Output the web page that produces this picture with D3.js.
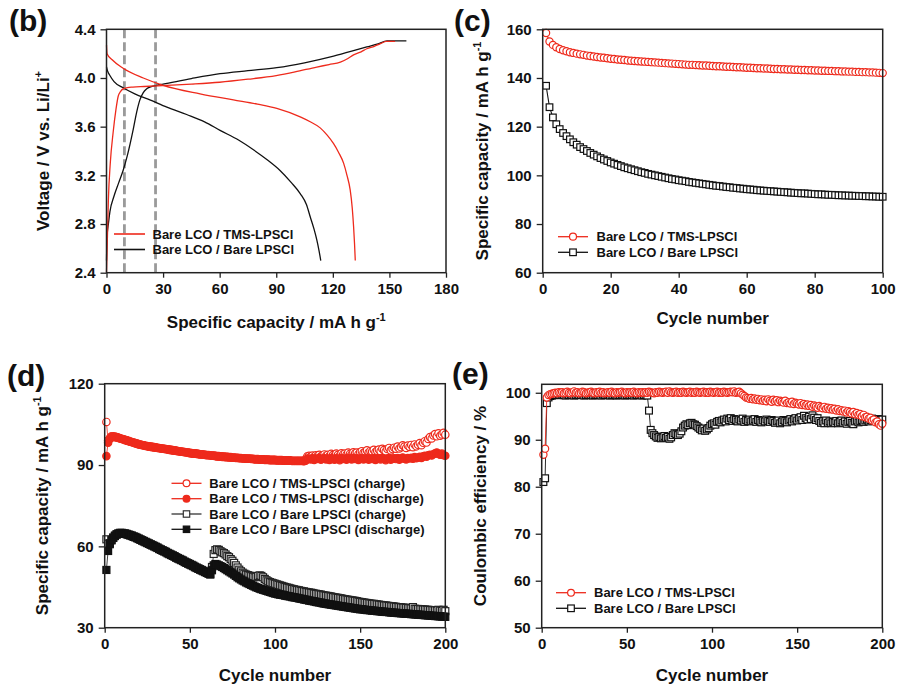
<!DOCTYPE html>
<html><head><meta charset="utf-8">
<script src="https://cdn.jsdelivr.net/npm/d3@7"></script>
<style>
body{margin:0;background:#fff;}
svg text{font-family:"Liberation Sans",Arial,sans-serif;font-weight:bold;fill:#111;}
</style></head><body>
<svg id="chart" width="900" height="692"></svg>
<script>
// ---------- Panel (b): voltage profiles ----------
const bChgTmsCap = [0, 0.5, 1, 2, 3.5, 5, 6.2, 7.5, 8.8, 11, 14, 20, 32, 45, 60, 75, 90, 100, 111.5, 118, 124, 128, 131, 135, 138, 142, 145, 148.3, 153];
const bChgTmsV   = [2.4, 2.7, 3.0, 3.3, 3.55, 3.74, 3.85, 3.89, 3.91, 3.92, 3.925, 3.93, 3.94, 3.95, 3.965, 3.99, 4.02, 4.05, 4.09, 4.11, 4.13, 4.16, 4.19, 4.215, 4.24, 4.26, 4.28, 4.3, 4.3];
const bChgBareCap = [0, 0.3, 1, 1.8, 4, 6.5, 8.8, 11, 14.2, 16, 17.7, 19.5, 21.2, 23, 26.5, 30, 45, 60.2, 75, 90.3, 105, 120.4, 130, 138, 144, 148.7, 159];
const bChgBareV   = [2.5, 2.7, 2.8, 2.9, 3.03, 3.14, 3.24, 3.36, 3.58, 3.72, 3.82, 3.88, 3.91, 3.925, 3.94, 3.95, 3.995, 4.035, 4.06, 4.085, 4.125, 4.18, 4.22, 4.255, 4.28, 4.305, 4.305];
const bDisTmsCap = [0, 0.3, 3, 8.8, 19.5, 30, 49.6, 67.3, 80, 90.3, 102.7, 108, 113.3, 117, 120.4, 123, 125.7, 127.5, 129.2, 130.3, 131, 131.5, 131.9];
const bDisTmsV   = [4.27, 4.2, 4.15, 4.08, 4.0, 3.94, 3.87, 3.82, 3.785, 3.75, 3.68, 3.64, 3.59, 3.53, 3.46, 3.39, 3.30, 3.2, 3.08, 2.93, 2.78, 2.64, 2.5];
const bDisBareCap = [0, 0.5, 1.8, 4, 8.8, 15, 23, 32, 42.5, 52, 60.2, 70, 77.9, 85, 92, 98, 102.7, 106, 108, 110, 111.5, 112.7, 113.6];
const bDisBareV   = [4.09, 4.06, 4.02, 3.97, 3.92, 3.87, 3.82, 3.76, 3.70, 3.64, 3.57, 3.49, 3.41, 3.33, 3.24, 3.14, 3.05, 2.96, 2.86, 2.76, 2.67, 2.58, 2.5];
const bDashX = [9.5, 26];
const bXTicks = [0, 30, 60, 90, 120, 150, 180];
const bYTicks = [2.4, 2.8, 3.2, 3.6, 4.0, 4.4];

// ---------- Panel (c): discharge capacity, 100 cycles ----------
const cTms = [158.5,155.0,153.6,152.6,151.9,151.4,151.0,150.6,150.3,150.0,
149.7,149.5,149.2,149.0,148.8,148.6,148.4,148.3,148.1,147.9,
147.8,147.6,147.5,147.4,147.2,147.1,147.0,146.9,146.8,146.7,
146.6,146.5,146.4,146.3,146.2,146.1,146.0,145.9,145.8,145.7,
145.6,145.5,145.4,145.4,145.3,145.2,145.1,145.1,145.0,144.9,
144.8,144.8,144.7,144.6,144.6,144.5,144.4,144.4,144.3,144.2,
144.2,144.1,144.0,144.0,143.9,143.9,143.8,143.7,143.7,143.6,
143.6,143.5,143.5,143.4,143.4,143.3,143.3,143.2,143.2,143.1,
143.1,143.0,143.0,142.9,142.9,142.8,142.8,142.7,142.7,142.6,
142.6,142.5,142.5,142.4,142.4,142.3,142.3,142.2,142.1,142.0];
const cBare = [136.8,128.0,123.8,121.0,119.0,117.4,116.1,114.8,113.6,112.6,
111.6,110.8,110.0,109.2,108.5,107.8,107.1,106.5,105.9,105.3,
104.8,104.3,103.8,103.3,102.9,102.5,102.1,101.7,101.3,101.0,
100.6,100.3,100.0,99.7,99.4,99.1,98.8,98.5,98.3,98.0,
97.8,97.6,97.3,97.1,96.9,96.7,96.5,96.3,96.1,95.9,
95.7,95.6,95.4,95.2,95.1,94.9,94.8,94.6,94.5,94.3,
94.2,94.1,93.9,93.8,93.7,93.6,93.5,93.4,93.3,93.2,
93.1,93.0,92.9,92.8,92.7,92.6,92.6,92.5,92.4,92.3,
92.2,92.2,92.1,92.0,92.0,91.9,91.8,91.8,91.7,91.7,
91.6,91.6,91.5,91.5,91.4,91.4,91.3,91.3,91.2,91.2];
const cXTicks = [0, 20, 40, 60, 80, 100];
const cYTicks = [60, 80, 100, 120, 140, 160];

// ---------- Panel (d): charge / discharge capacity, 200 cycles ----------
const dTmsChg = [105.9,99.0,100.0,100.6,100.6,100.5,100.3,100.1,99.9,99.7,
99.5,99.3,99.1,98.9,98.7,98.5,98.3,98.1,97.9,97.7,
97.6,97.4,97.3,97.1,97.0,96.9,96.8,96.7,96.6,96.5,
96.4,96.3,96.2,96.1,96.0,95.9,95.8,95.7,95.6,95.5,
95.4,95.3,95.2,95.1,95.0,94.9,94.8,94.7,94.6,94.5,
94.4,94.3,94.3,94.2,94.1,94.0,94.0,93.9,93.8,93.7,
93.7,93.6,93.5,93.5,93.4,93.3,93.3,93.2,93.1,93.1,
93.0,93.0,92.9,92.9,92.8,92.8,92.7,92.7,92.6,92.6,
92.5,92.5,92.4,92.4,92.4,92.3,92.3,92.2,92.2,92.2,
92.1,92.1,92.1,92.0,92.0,92.0,91.9,91.9,91.9,91.9,
91.8,91.8,91.8,91.8,91.7,91.7,91.7,91.7,91.7,91.6,
91.6,91.6,91.6,91.6,91.6,91.6,91.5,92.2,93.2,93.4,
93.1,93.5,93.0,93.6,93.3,93.8,93.2,93.6,93.9,93.4,
93.8,93.3,94.1,93.7,93.5,94.2,93.8,93.4,94.3,93.9,
94.2,93.8,94.6,94.1,94.0,94.7,94.2,94.6,94.0,94.8,
95.1,94.5,94.9,95.4,94.6,95.2,95.0,95.6,94.8,95.3,
95.7,95.1,96.0,95.5,95.0,95.9,96.3,95.4,95.9,96.4,
96.0,96.8,96.1,96.6,97.3,96.8,96.3,97.2,96.7,97.4,
96.6,97.6,96.9,97.5,98.1,97.3,98.2,98.8,98.3,99.6,
100.3,99.8,100.9,101.4,100.6,101.7,100.8,101.3,101.9,101.2];
const dTmsDis = [93.3,98.2,99.6,100.3,100.4,100.3,100.2,100.0,99.8,99.6,
99.4,99.2,99.0,98.8,98.6,98.4,98.2,98.0,97.8,97.6,
97.5,97.3,97.2,97.0,96.9,96.8,96.7,96.6,96.5,96.4,
96.3,96.2,96.1,96.0,95.9,95.8,95.7,95.6,95.5,95.4,
95.3,95.2,95.1,95.0,94.9,94.8,94.7,94.6,94.5,94.4,
94.3,94.2,94.2,94.1,94.0,93.9,93.9,93.8,93.7,93.6,
93.6,93.5,93.4,93.4,93.3,93.2,93.2,93.1,93.0,93.0,
92.9,92.9,92.8,92.8,92.7,92.7,92.6,92.6,92.5,92.5,
92.4,92.4,92.3,92.3,92.3,92.2,92.2,92.1,92.1,92.1,
92.0,92.0,92.0,91.9,91.9,91.9,91.8,91.8,91.8,91.8,
91.7,91.7,91.7,91.7,91.6,91.6,91.6,91.6,91.6,91.5,
91.5,91.5,91.5,91.5,91.5,91.5,91.4,91.6,92.4,92.3,
92.1,92.5,91.9,92.4,92.2,92.6,92.0,92.3,92.5,92.1,
92.4,91.9,92.6,92.2,92.0,92.5,92.3,91.8,92.6,92.2,
92.4,92.0,92.7,92.3,92.1,92.6,92.2,92.5,91.9,92.4,
92.6,92.1,92.3,92.7,92.0,92.4,92.2,92.6,91.9,92.3,
92.5,92.1,92.7,92.3,91.8,92.4,92.6,92.0,92.3,92.5,
92.2,92.6,92.0,92.4,92.8,92.3,92.1,92.6,92.4,92.7,
92.3,92.9,92.5,92.8,93.0,92.6,93.2,93.4,93.1,93.6,
93.8,93.5,94.0,94.3,94.6,94.1,93.8,94.2,93.6,93.4];
const dBareChg = [62.6,61.0,61.2,62.4,63.3,64.0,64.5,64.8,65.0,65.0,
64.9,64.8,64.6,64.4,64.2,64.0,63.7,63.5,63.2,62.9,
62.6,62.3,62.0,61.7,61.4,61.1,60.8,60.5,60.2,59.9,
59.6,59.2,58.9,58.6,58.3,58.0,57.6,57.3,57.0,56.7,
56.4,56.0,55.7,55.4,55.1,54.8,54.4,54.1,53.8,53.5,
53.2,52.9,52.5,52.2,51.9,51.6,51.3,51.0,50.7,50.4,
50.1,49.8,52.4,57.2,58.6,58.9,58.7,58.2,57.8,57.5,
57.0,56.4,56.0,55.3,54.7,53.9,53.0,52.2,51.4,50.8,
50.3,49.9,49.6,49.4,49.2,49.0,48.8,48.6,48.8,49.1,
49.3,49.1,48.6,48.0,47.5,47.1,46.8,46.6,46.4,46.2,
46.0,45.8,45.6,45.4,45.2,45.0,44.8,44.7,44.5,44.3,
44.2,44.0,43.9,43.8,43.6,43.5,43.4,43.2,43.1,43.0,
42.9,42.8,42.6,42.5,42.4,42.3,42.2,42.0,41.9,41.8,
41.7,41.6,41.5,41.3,41.2,41.1,41.0,40.9,40.8,40.6,
40.5,40.4,40.3,40.2,40.1,40.0,39.9,39.8,39.6,39.5,
39.4,39.3,39.2,39.1,39.0,38.9,38.8,38.8,38.7,38.6,
38.5,38.4,38.3,38.2,38.2,38.1,38.0,37.9,37.9,37.8,
37.7,37.6,37.6,37.5,37.4,37.4,37.3,37.2,37.2,37.1,
37.6,37.0,36.9,36.9,36.8,36.8,36.7,36.7,36.6,36.6,
36.5,36.5,36.4,36.4,36.3,36.6,36.3,36.2,36.6,36.1];
const dBareDis = [51.3,58.3,60.8,62.2,63.1,63.8,64.3,64.6,64.8,64.8,
64.7,64.6,64.4,64.2,64.0,63.8,63.5,63.3,63.0,62.7,
62.4,62.1,61.8,61.5,61.2,60.9,60.6,60.3,60.0,59.7,
59.4,59.0,58.7,58.4,58.1,57.8,57.4,57.1,56.8,56.5,
56.2,55.8,55.5,55.2,54.9,54.6,54.2,53.9,53.6,53.3,
53.0,52.7,52.3,52.0,51.7,51.4,51.1,50.8,50.5,50.2,
49.9,49.6,51.2,53.0,53.5,53.3,53.0,52.7,52.4,52.0,
51.6,51.2,50.8,50.4,50.0,49.6,49.1,48.6,48.2,47.8,
47.4,47.1,46.7,46.4,46.1,45.8,45.5,45.2,44.9,44.7,
44.4,44.2,44.0,43.8,43.6,43.4,43.2,43.0,42.8,42.6,
42.5,42.3,42.2,42.1,42.0,41.8,41.7,41.6,41.5,41.3,
41.2,41.1,41.0,40.8,40.7,40.6,40.4,40.3,40.2,40.0,
39.9,39.8,39.7,39.5,39.4,39.3,39.2,39.0,38.9,38.8,
38.7,38.6,38.5,38.4,38.3,38.2,38.1,38.0,37.9,37.8,
37.7,37.6,37.5,37.4,37.3,37.2,37.1,37.0,36.9,36.8,
36.8,36.7,36.6,36.5,36.5,36.4,36.3,36.3,36.2,36.1,
36.1,36.0,35.9,35.9,35.8,35.8,35.7,35.6,35.6,35.5,
35.5,35.4,35.4,35.3,35.3,35.2,35.2,35.1,35.1,35.0,
35.0,34.9,34.9,34.8,34.8,34.7,34.7,34.6,34.6,34.5,
34.5,34.4,34.4,34.3,34.3,34.2,34.2,34.1,34.1,34.0];
const dXTicks = [0, 50, 100, 150, 200];
const dYTicks = [30, 60, 90, 120];

// ---------- Panel (e): coulombic efficiency, 200 cycles ----------
const eTms = [86.8,88.1,99.0,99.5,99.7,99.8,99.9,100.0,99.9,100.1,
100.0,100.1,99.9,100.0,100.2,100.0,99.9,100.1,100.3,100.0,
100.1,99.9,100.0,100.2,100.1,99.9,100.0,100.1,100.2,100.0,
99.9,100.1,100.0,100.2,100.0,100.1,99.9,100.0,100.1,100.0,
100.2,100.0,99.9,100.1,100.0,100.1,100.2,100.0,99.9,100.1,
100.0,100.1,100.0,100.2,100.0,99.9,100.1,100.0,100.1,100.0,
100.1,100.0,100.2,100.1,100.0,99.9,100.1,100.0,100.2,100.1,
100.0,100.1,100.2,100.0,100.3,100.1,100.0,100.1,100.2,100.0,
100.1,100.0,100.2,100.1,100.0,100.1,100.2,100.0,100.1,100.0,
100.2,100.1,100.0,100.1,100.2,100.0,100.1,100.0,100.2,100.1,
100.0,100.1,100.2,100.0,100.1,100.0,100.2,100.1,100.0,100.1,
100.2,100.1,100.3,100.0,100.1,100.2,99.9,99.6,99.3,99.0,
98.9,98.7,98.9,98.6,98.8,98.5,98.7,98.4,98.6,98.3,
98.5,98.2,98.6,98.3,98.1,98.5,98.2,98.4,98.0,98.3,
98.1,97.9,98.3,97.8,98.0,97.7,98.1,97.6,97.9,97.7,
97.5,97.8,97.4,97.6,97.3,97.5,97.2,97.4,97.0,97.3,
97.1,96.8,97.2,96.9,96.7,97.0,96.6,96.8,96.5,96.7,
96.4,96.6,96.2,96.5,96.1,96.3,96.0,96.2,95.8,96.1,
95.9,95.6,95.9,95.4,95.7,95.3,95.5,95.0,95.3,94.8,
94.9,94.5,94.7,94.1,94.3,93.7,93.9,93.3,93.0,93.4];
const eBare = [81.0,81.8,97.8,99.0,99.3,99.4,99.5,99.6,99.5,99.6,
99.5,99.6,99.5,99.4,99.6,99.5,99.6,99.5,99.4,99.5,
99.6,99.5,99.5,99.6,99.4,99.5,99.6,99.5,99.5,99.4,
99.5,99.6,99.5,99.5,99.4,99.6,99.5,99.5,99.6,99.4,
99.5,99.5,99.6,99.4,99.5,99.5,99.6,99.5,99.4,99.5,
99.6,99.5,99.5,99.4,99.6,99.5,99.5,99.6,99.4,99.5,
99.5,99.4,96.2,92.1,91.4,91.0,90.7,90.4,90.6,90.3,
90.5,90.8,90.4,90.6,90.2,90.5,91.0,91.4,91.2,91.0,
91.3,91.8,92.6,93.0,93.3,93.1,93.5,93.6,93.3,93.2,
92.9,92.6,92.3,92.0,92.4,91.9,92.2,92.5,93.0,93.3,
93.5,93.2,93.8,94.0,93.7,94.1,94.3,93.9,94.5,94.2,
94.6,94.0,94.4,94.2,93.9,94.3,94.1,94.5,93.8,94.2,
94.0,94.3,93.9,94.1,94.4,93.8,94.2,94.0,93.7,94.1,
93.9,94.3,94.0,93.8,94.2,94.0,93.6,93.9,94.1,93.5,
93.8,94.2,94.0,93.7,94.1,94.4,93.9,94.3,94.6,94.1,
94.5,94.8,94.2,95.1,94.6,94.3,94.9,94.4,95.2,94.7,
94.2,94.6,94.0,93.6,93.9,93.5,94.1,93.6,93.9,93.5,
93.8,93.6,94.0,93.5,93.8,94.1,93.6,93.9,93.4,93.8,
94.0,93.6,93.3,93.9,94.1,93.7,94.0,94.2,93.8,94.1,
94.3,93.9,94.2,94.5,94.0,94.3,94.1,94.4,94.2,94.3];
const eXTicks = [0, 50, 100, 150, 200];
const eYTicks = [50, 60, 70, 80, 90, 100];

const labelTms = "Bare LCO / TMS-LPSCl";
const labelBare = "Bare LCO / Bare LPSCl";

// ---------- drawing ----------
const RED = "#ee2a1c", BLACK = "#111111", FRAME = "#222";
const svg = d3.select("#chart");

function makePanel(o) {
  const x = d3.scaleLinear().domain(o.xDomain).range([o.left, o.right]);
  const y = d3.scaleLinear().domain(o.yDomain).range([o.bottom, o.top]);
  const g = svg.append("g");
  const clipId = "clip" + o.id;
  svg.append("clipPath").attr("id", clipId).append("rect")
    .attr("x", o.left - 6).attr("y", o.top - 6)
    .attr("width", o.right - o.left + 12).attr("height", o.bottom - o.top + 12);
  const plot = g.append("g").attr("clip-path", `url(#${clipId})`);
  const xa = g.append("g").attr("transform", `translate(0,${o.bottom})`)
    .call(d3.axisBottom(x).tickValues(o.xTicks).tickSize(5).tickPadding(6).tickFormat(o.xFmt || d3.format("d")));
  const ya = g.append("g").attr("transform", `translate(${o.left},0)`)
    .call(d3.axisLeft(y).tickValues(o.yTicks).tickSize(6).tickPadding(5).tickFormat(o.yFmt || d3.format("d")));
  [xa, ya].forEach(a => {
    a.select(".domain").remove();
    a.selectAll(".tick line").attr("stroke", FRAME).attr("stroke-width", 1.3);
    a.selectAll(".tick text").attr("font-size", 15).attr("fill", "#111")
      .attr("font-family", "'Liberation Sans', Arial, sans-serif").attr("font-weight", "bold");
  });
  return {x, y, g, plot};
}

function frame(p, o) {
  p.g.append("rect").attr("x", o.left).attr("y", o.top)
    .attr("width", o.right - o.left).attr("height", o.bottom - o.top)
    .attr("fill", "none").attr("stroke", FRAME).attr("stroke-width", 1.5);
}

function titles(o, xTitle, yTitleParts, yCx) {
  svg.append("text").attr("x", (o.left + o.right) / 2).attr("y", o.xTitleY)
    .attr("text-anchor", "middle").attr("font-size", 17).text(xTitle);
  const t = svg.append("text").attr("transform", `translate(${yCx},${(o.top + o.bottom) / 2}) rotate(-90)`)
    .attr("text-anchor", "middle").attr("font-size", 17);
  yTitleParts.forEach(pt => {
    const ts = t.append("tspan").text(pt.t);
    if (pt.sup) ts.attr("font-size", 11).attr("dy", -7);
  });
  svg.append("text").attr("x", o.labX).attr("y", o.labY).attr("font-size", 30).text(o.label);
}

function marker(sel, type, cx, cy, size, color, filled) {
  if (type === "circle") {
    return sel.append("circle").attr("cx", cx).attr("cy", cy).attr("r", size)
      .attr("fill", filled ? color : "#fff").attr("stroke", color).attr("stroke-width", 1.2);
  }
  return sel.append("rect").attr("x", cx - size).attr("y", cy - size)
    .attr("width", size * 2).attr("height", size * 2)
    .attr("fill", filled ? color : "#fff").attr("stroke", color).attr("stroke-width", 1.2);
}

function series(p, vals, type, size, color, filled, lineW) {
  const pts = vals.map((v, i) => [i + 1, v]);
  p.plot.append("path").datum(pts)
    .attr("d", d3.line().x(d => p.x(d[0])).y(d => p.y(d[1])))
    .attr("fill", "none").attr("stroke", color).attr("stroke-width", lineW);
  const mg = p.plot.append("g");
  pts.forEach(d => marker(mg, type, p.x(d[0]), p.y(d[1]), size, color, filled));
}

function legendRow(x0, x1, tx, y, color, type, size, filled, text) {
  svg.append("line").attr("x1", x0).attr("x2", x1).attr("y1", y).attr("y2", y)
    .attr("stroke", color).attr("stroke-width", type ? 1.3 : 1.6);
  if (type) marker(svg, type, (x0 + x1) / 2, y, size, color, filled);
  svg.append("text").attr("x", tx).attr("y", y + 4.7).attr("font-size", 13).text(text);
}

// ----- Panel b -----
const ob = {id: "b", left: 106.5, right: 446, top: 29.3, bottom: 272.7, xDomain: [0, 180], yDomain: [2.4, 4.4],
  xTicks: bXTicks, yTicks: bYTicks, yFmt: d3.format(".1f"), xTitleY: 328, labX: 9, labY: 31, label: "(b)"};
const pb = makePanel(ob);
bDashX.forEach(v => pb.plot.append("line").attr("x1", pb.x(v)).attr("x2", pb.x(v))
  .attr("y1", ob.top).attr("y2", ob.bottom).attr("stroke", "#9a9a9a").attr("stroke-width", 2.8)
  .attr("stroke-dasharray", "9,4"));
const lineB = d3.line().curve(d3.curveMonotoneX).x(d => pb.x(d[0])).y(d => pb.y(d[1]));
[[bChgBareCap, bChgBareV, BLACK], [bDisBareCap, bDisBareV, BLACK], [bChgTmsCap, bChgTmsV, RED], [bDisTmsCap, bDisTmsV, RED]]
  .forEach(([cx, vy, col]) => pb.plot.append("path").datum(cx.map((c, i) => [c, vy[i]]))
    .attr("d", lineB).attr("fill", "none").attr("stroke", col).attr("stroke-width", 1.3));
frame(pb, ob);
svg.append("text").attr("x", ob.labX).attr("y", ob.labY).attr("font-size", 30).text(ob.label);
{
  const t = svg.append("text").attr("x", (ob.left + ob.right) / 2).attr("y", ob.xTitleY)
    .attr("text-anchor", "middle").attr("font-size", 17);
  t.append("tspan").text("Specific capacity / mA h g");
  t.append("tspan").attr("font-size", 11).attr("dy", -7).text("-1");
  const ty = svg.append("text").attr("transform", `translate(49,${(ob.top + ob.bottom) / 2}) rotate(-90)`)
    .attr("text-anchor", "middle").attr("font-size", 17);
  ty.append("tspan").text("Voltage / V vs. Li/Li");
  ty.append("tspan").attr("font-size", 11).attr("dy", -7).text("+");
}
legendRow(114, 145, 152.5, 234, RED, null, 0, false, labelTms);
legendRow(114, 145, 152.5, 249.5, BLACK, null, 0, false, labelBare);

// ----- Panel c -----
const oc = {id: "c", left: 542.7, right: 882.7, top: 29.3, bottom: 272.7, xDomain: [0, 100], yDomain: [60, 160],
  xTicks: cXTicks, yTicks: cYTicks, xTitleY: 324, labX: 454, labY: 31, label: "(c)"};
const pc = makePanel(oc);
series(pc, cBare, "rect", 3.3, BLACK, false, 1.1);
series(pc, cTms, "circle", 3.6, RED, false, 1.1);
frame(pc, oc);
titles(oc, "Cycle number", [{t: "Specific capacity / mA h g"}, {t: "-1", sup: true}], 488);
legendRow(558, 588, 596.5, 236.7, RED, "circle", 3.5, false, labelTms);
legendRow(558, 588, 596.5, 252.3, BLACK, "rect", 3.3, false, labelBare);

// ----- Panel d -----
const od = {id: "d", left: 104.7, right: 445.3, top: 383.7, bottom: 627.7, xDomain: [0, 200], yDomain: [30, 120],
  xTicks: dXTicks, yTicks: dYTicks, xTitleY: 681, labX: 7, labY: 386, label: "(d)"};
const pd = makePanel(od);
series(pd, dBareChg, "rect", 3.5, "#222", false, 0.8);
series(pd, dBareDis, "rect", 3.5, BLACK, true, 0.8);
series(pd, dTmsChg, "circle", 3.7, RED, false, 0.8);
series(pd, dTmsDis, "circle", 3.7, RED, true, 0.8);
frame(pd, od);
titles(od, "Cycle number", [{t: "Specific capacity / mA h g"}, {t: "-1", sup: true}], 48);
legendRow(171.5, 201.5, 209.3, 483.3, RED, "circle", 3.4, false, "Bare LCO / TMS-LPSCl (charge)");
legendRow(171.5, 201.5, 209.3, 498.7, RED, "circle", 3.4, true, "Bare LCO / TMS-LPSCl (discharge)");
legendRow(171.5, 201.5, 209.3, 514, "#333", "rect", 3.2, false, "Bare LCO / Bare LPSCl (charge)");
legendRow(171.5, 201.5, 209.3, 529.3, BLACK, "rect", 3.2, true, "Bare LCO / Bare LPSCl (discharge)");

// ----- Panel e -----
const oe = {id: "e", left: 541.7, right: 882.3, top: 384.3, bottom: 627.7, xDomain: [0, 200], yDomain: [50, 101.8],
  xTicks: eXTicks, yTicks: eYTicks, xTitleY: 681, labX: 452, labY: 384, label: "(e)"};
const pe = makePanel(oe);
series(pe, eBare, "rect", 3.4, BLACK, false, 0.9);
series(pe, eTms, "circle", 3.6, RED, false, 0.9);
frame(pe, oe);
titles(oe, "Cycle number", [{t: "Coulombic efficiency / %"}], 486);
legendRow(556, 586, 594, 592.7, RED, "circle", 3.4, false, labelTms);
legendRow(556, 586, 594, 608.3, BLACK, "rect", 3.3, false, labelBare);
</script>
</body></html>
